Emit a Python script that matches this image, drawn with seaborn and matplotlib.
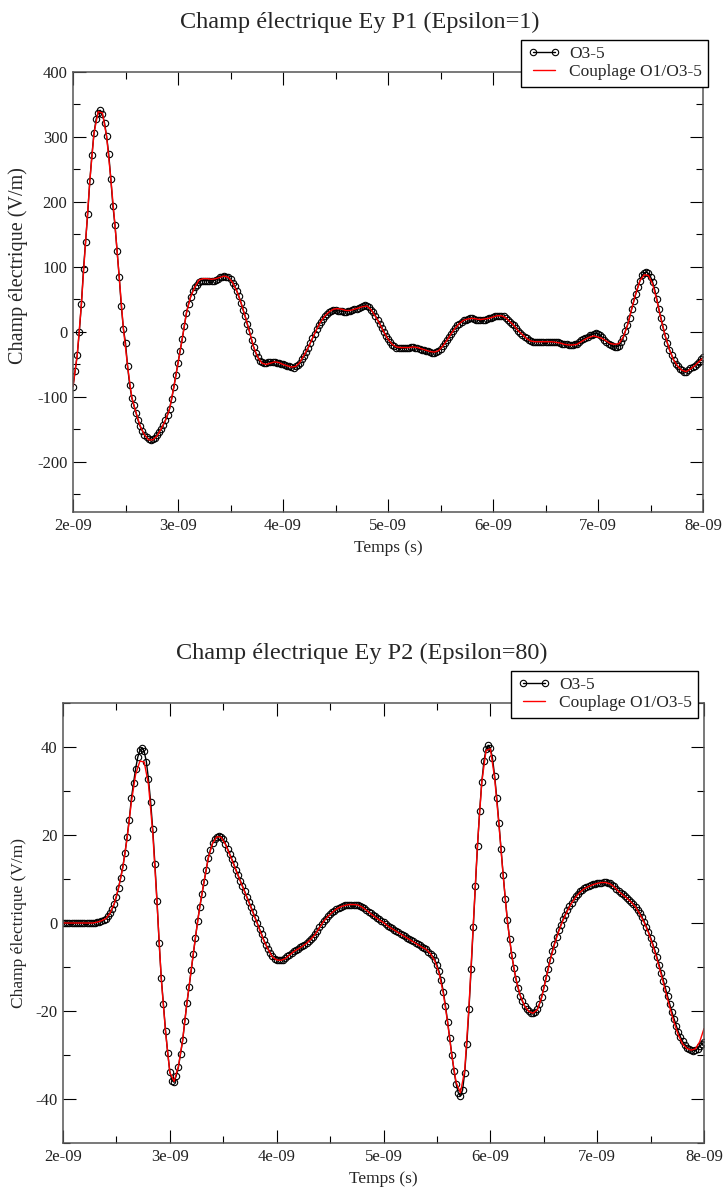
import numpy as np
import matplotlib
matplotlib.use('Agg')
import matplotlib.pyplot as plt
from matplotlib.ticker import MultipleLocator, FuncFormatter
import seaborn as sns

# time axis: first sample and sampling steps (seconds)
T0 = 2e-9
DT_O35 = 0.02e-9
DT_COUP = 0.04e-9

# P1 (Epsilon=1), O3-5 scheme, one value every 0.02 ns (rows of 0.2 ns)
p1_o35 = [
    -84, -60, -36, 0, 43, 97, 139, 182, 232, 272,
    306, 327, 337, 341, 335, 322, 301, 274, 236, 194,
    164, 124, 85, 40, 5, -17, -53, -82, -101, -113,
    -124, -136, -145, -152, -158, -162, -165, -166, -165, -163,
    -159, -154, -149, -143, -136, -128, -118, -103, -85, -66,
    -48, -29, -11, 9, 29, 43, 54, 63, 69, 73,
    77, 79, 79, 79, 79, 79, 79, 79, 80, 82,
    84, 85, 86, 85, 84, 81, 76, 70, 63, 55,
    45, 34, 24, 12, 1, -12, -23, -32, -39, -44,
    -46, -47, -47, -46, -46, -46, -46, -47, -48, -49,
    -50, -51, -52, -53, -54, -55, -53, -51, -47, -42,
    -37, -31, -24, -17, -10, -3, 4, 11, 16, 20,
    24, 27, 30, 33, 34, 34, 33, 32, 32, 31,
    31, 32, 33, 34, 35, 36, 37, 38, 40, 41,
    40, 38, 34, 30, 25, 19, 13, 6, 0, -6,
    -11, -16, -20, -22, -24, -25, -25, -25, -25, -24,
    -24, -23, -23, -24, -25, -26, -27, -28, -29, -30,
    -31, -32, -32, -31, -29, -26, -22, -17, -13, -8,
    -3, 2, 6, 10, 13, 16, 18, 19, 20, 21,
    21, 20, 19, 18, 18, 18, 19, 20, 21, 22,
    23, 24, 25, 25, 25, 24, 22, 19, 16, 13,
    10, 6, 2, -1, -4, -7, -10, -12, -14, -15,
    -15, -15, -15, -15, -15, -15, -15, -15, -15, -16,
    -16, -16, -17, -18, -19, -19, -20, -20, -20, -19,
    -18, -15, -13, -11, -9, -7, -5, -4, -3, -2,
    -3, -5, -8, -12, -15, -18, -20, -22, -23, -23,
    -21, -16, -9, 1, 10, 22, 35, 47, 59, 69,
    79, 87, 91, 92, 90, 85, 77, 65, 51, 35,
    21, 7, -6, -17, -27, -35, -43, -49, -53, -57,
    -59, -61, -61, -59, -56, -54, -52, -49, -46, -42,
    -39,
]

# P1, coupled O1/O3-5 scheme, one value every 0.04 ns
p1_coup = [
    -84, -36, 43, 139, 232,
    306, 339, 337, 301, 236,
    164, 85, 5, -53, -101,
    -124, -145, -158, -166, -166,
    -160, -149, -136, -118, -85,
    -48, -11, 29, 54, 69,
    80, 82, 82, 81, 82,
    84, 86, 84, 76, 63,
    45, 24, 1, -23, -39,
    -48, -50, -48, -46, -47,
    -50, -52, -54, -53, -47,
    -36, -24, -10, 4, 16,
    25, 31, 35, 36, 35,
    33, 33, 35, 37, 39,
    40, 34, 24, 13, 0,
    -11, -19, -23, -24, -24,
    -24, -23, -24, -26, -28,
    -30, -31, -29, -22, -13,
    -3, 6, 13, 18, 20,
    21, 20, 19, 20, 21,
    23, 25, 25, 22, 16,
    10, 2, -4, -10, -14,
    -15, -15, -15, -15, -15,
    -16, -17, -19, -20, -20,
    -19, -15, -11, -8, -6,
    -8, -10, -14, -18, -19,
    -18, -8, 10, 35, 59,
    79, 88, 87, 74, 49,
    20, -6, -27, -43, -53,
    -59, -61, -57, -52, -46,
    -40,
]

# P2 (Epsilon=80), O3-5 scheme, one value every 0.02 ns
p2_o35 = [
    0, 0, 0, 0, 0, 0, 0, 0, 0, 0,
    0, 0, 0, 0, 0, 0.1, 0.2, 0.3, 0.5, 0.7,
    1.0, 1.5, 2.2, 3.2, 4.4, 6.0, 8.0, 10.3, 12.8, 15.9,
    19.6, 23.5, 28.3, 31.8, 35.1, 37.7, 39.3, 39.8, 39.0, 36.7,
    32.7, 27.6, 21.3, 13.5, 5.0, -4.6, -12.5, -18.5, -24.5, -29.5,
    -33.8, -35.8, -36.2, -34.7, -32.8, -29.7, -26.7, -22.3, -18.2, -14.6,
    -10.7, -7.0, -3.3, 0.4, 3.6, 6.5, 9.3, 12.1, 14.8, 16.7,
    18.1, 19.1, 19.6, 19.8, 19.6, 19.0, 18.0, 16.9, 15.7, 14.5,
    13.3, 12.0, 10.8, 9.6, 8.4, 7.2, 6.0, 4.8, 3.6, 2.4,
    1.1, -0.1, -1.4, -2.6, -3.9, -5.0, -5.9, -6.8, -7.6, -8.1,
    -8.3, -8.4, -8.4, -8.3, -8.0, -7.6, -7.2, -6.8, -6.4, -6.1,
    -5.8, -5.5, -5.2, -4.9, -4.5, -4.1, -3.6, -3.1, -2.5, -1.8,
    -1.0, -0.3, 0.4, 1.0, 1.5, 2.0, 2.4, 2.8, 3.2, 3.5,
    3.7, 3.9, 4.0, 4.1, 4.2, 4.2, 4.2, 4.2, 4.1, 3.9,
    3.7, 3.4, 3.0, 2.6, 2.2, 1.9, 1.5, 1.2, 0.8, 0.5,
    0.2, -0.2, -0.6, -0.9, -1.2, -1.5, -1.8, -2.1, -2.4, -2.7,
    -3.0, -3.3, -3.6, -3.9, -4.2, -4.5, -4.8, -5.1, -5.4, -5.7,
    -6.0, -6.5, -7.0, -7.6, -8.4, -9.5, -11.0, -13.0, -15.6, -18.8,
    -22.4, -26.2, -30.0, -33.6, -36.6, -38.6, -39.3, -38.0, -34.0, -27.5,
    -19.5, -10.5, -1.0, 8.5, 17.5, 25.5, 32.0, 36.8, 39.5, 40.4,
    39.8, 37.5, 33.5, 28.5, 22.8, 16.8, 11.0, 5.5, 0.6, -3.6,
    -7.2, -10.2, -12.7, -14.8, -16.5, -17.8, -18.8, -19.6, -20.1, -20.4,
    -20.5, -20.3, -19.6, -18.4, -16.8, -14.8, -12.6, -10.4, -8.3, -6.4,
    -4.7, -3.1, -1.7, -0.4, 0.8, 1.9, 2.9, 3.8, 4.6, 5.4,
    6.1, 6.7, 7.2, 7.6, 7.9, 8.2, 8.4, 8.6, 8.8, 8.9,
    9.0, 9.1, 9.2, 9.3, 9.3, 9.2, 9.0, 8.7, 8.3, 7.8,
    7.3, 6.9, 6.5, 6.1, 5.7, 5.3, 4.8, 4.3, 3.7, 3.0,
    2.2, 1.3, 0.3, -0.8, -2.0, -3.3, -4.7, -6.2, -7.8, -9.5,
    -11.3, -13.1, -14.9, -16.7, -18.5, -20.2, -21.8, -23.3, -24.7, -25.9,
    -26.9, -27.7, -28.3, -28.7, -28.9, -29.0, -28.9, -28.6, -28.0, -27.5,
    -27.0,
]

# P2, coupled O1/O3-5 scheme, one value every 0.04 ns
p2_coup = [
    0, 0, 0, 0, 0,
    0, 0, 0, 0.2, 0.5,
    1.0, 2.2, 4.4, 8.0, 12.6,
    19.2, 27.5, 33.8, 36.8, 36.6,
    31.5, 20.5, 4.6, -12.8, -24.8,
    -34.0, -36.0, -32.6, -26.6, -18.1,
    -10.6, -3.2, 3.7, 9.4, 14.8,
    18.1, 19.6, 19.5, 17.9, 15.6,
    13.2, 10.7, 8.3, 5.9, 3.5,
    1.0, -1.5, -4.0, -6.0, -7.7,
    -8.4, -8.5, -8.1, -7.3, -6.5,
    -5.9, -5.3, -4.6, -3.7, -2.6,
    -1.1, 0.4, 1.5, 2.4, 3.2,
    3.7, 4.0, 4.2, 4.2, 4.1,
    3.6, 2.9, 2.1, 1.4, 0.7,
    0.1, -0.7, -1.3, -1.9, -2.5,
    -3.1, -3.7, -4.3, -4.9, -5.5,
    -6.0, -7.0, -8.6, -11.4, -16.0,
    -22.6, -30.2, -36.2, -38.6, -33.5,
    -19.0, -0.5, 18.0, 32.0, 39.2,
    39.6, 33.0, 22.5, 10.8, 0.3,
    -7.3, -12.8, -16.5, -18.8, -20.1,
    -20.5, -19.7, -17.0, -12.8, -8.5,
    -4.9, -1.9, 0.6, 2.7, 4.5,
    5.9, 7.0, 7.8, 8.3, 8.7,
    9.0, 9.2, 9.2, 8.9, 8.2,
    7.2, 6.4, 5.6, 4.7, 3.6,
    2.0, 0.1, -2.2, -5.0, -8.2,
    -11.8, -15.5, -19.2, -22.6, -25.5,
    -27.5, -28.5, -28.9, -28.6, -27.0,
    -24.0,
]

titles = ['Champ électrique Ey P1 (Epsilon=1)', 'Champ électrique Ey P2 (Epsilon=80)']
series_labels = ['O3-5', 'Couplage O1/O3-5']
x_label = 'Temps (s)'
y_label = 'Champ électrique (V/m)'

sns.set_style('ticks')
plt.rcParams['font.family'] = ['Liberation Serif', 'DejaVu Serif']
plt.rcParams['axes.unicode_minus'] = False

SPINE = '#555555'


def plot_panel(ax, o35, coup, ylim, ymajor, yminor, legend_anchor):
    t_o35 = T0 + DT_O35 * np.arange(len(o35))
    t_coup = T0 + DT_COUP * np.arange(len(coup))
    sns.lineplot(x=t_o35, y=o35, ax=ax, color='black', linewidth=1.0,
                 marker='o', markersize=4.6, markerfacecolor='none',
                 markeredgecolor='black', markeredgewidth=0.8,
                 label=series_labels[0], estimator=None, sort=False)
    sns.lineplot(x=t_coup, y=coup, ax=ax, color='red', linewidth=1.0,
                 label=series_labels[1], estimator=None, sort=False)

    ax.set_xlim(2e-9, 8e-9)
    ax.set_ylim(*ylim)
    ax.xaxis.set_major_locator(MultipleLocator(1e-9))
    ax.xaxis.set_minor_locator(MultipleLocator(0.5e-9))
    ax.xaxis.set_major_formatter(FuncFormatter(lambda v, _: f'{v:.0e}'))
    ax.yaxis.set_major_locator(MultipleLocator(ymajor))
    ax.yaxis.set_minor_locator(MultipleLocator(yminor))

    ax.tick_params(which='both', direction='in', top=True, right=True,
                   color='black', width=0.8, labelsize=12, labelcolor='#222222')
    ax.tick_params(which='major', length=9.5, pad=4)
    ax.tick_params(which='minor', length=5)
    for s in ax.spines.values():
        s.set_color(SPINE)
        s.set_linewidth(1.1)

    ax.set_xlabel(x_label, fontsize=12.5, labelpad=4.5)

    leg = ax.legend(loc='upper right', bbox_to_anchor=legend_anchor,
                    bbox_transform=ax.figure.transFigure, borderaxespad=0,
                    fontsize=12.5, numpoints=2, handlelength=1.9,
                    handletextpad=0.5, labelspacing=0.12, borderpad=0.35,
                    fancybox=False, framealpha=1, edgecolor='black')
    leg.get_frame().set_linewidth(1.0)


fig = plt.figure(figsize=(7.24, 11.89), dpi=100)
W, H = 724, 1189

ax1 = fig.add_axes([73 / W, 1 - 512 / H, 630 / W, 440 / H])
plot_panel(ax1, p1_o35, p1_coup, (-277, 400), 100, 50, (708 / W, 1 - 40 / H))
ax1.set_ylabel(y_label, fontsize=14.5)
ax1.yaxis.set_label_coords(-0.071, 0.56)
fig.text(0.497, 1 - 22 / H, titles[0], ha='center', va='center', fontsize=17.5)

ax2 = fig.add_axes([63 / W, 1 - 1143 / H, 641 / W, 440 / H])
plot_panel(ax2, p2_o35, p2_coup, (-50, 50), 20, 10, (698 / W, 1 - 671 / H))
ax2.set_ylabel(y_label, fontsize=12.5)
ax2.yaxis.set_label_coords(-0.056, 0.5)
fig.text(0.499, 1 - 653 / H, titles[1], ha='center', va='center', fontsize=17.5)

fig.savefig('out.png', dpi=100)
